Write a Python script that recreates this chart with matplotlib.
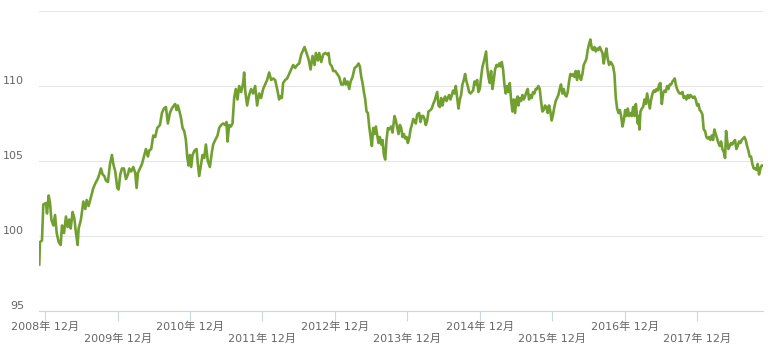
import matplotlib
matplotlib.use('Agg')
import matplotlib.pyplot as plt
from matplotlib.transforms import ScaledTranslation
import pandas as pd

# time as decimal year
when = [
    2008.834, 2008.843, 2008.871, 2008.889, 2008.926, 2008.940, 2008.963, 2008.982,
    2009.000, 2009.028, 2009.051, 2009.074, 2009.101, 2009.129, 2009.147, 2009.175,
    2009.202, 2009.225, 2009.248, 2009.267, 2009.294, 2009.317, 2009.340, 2009.363,
    2009.377, 2009.409, 2009.442, 2009.469, 2009.488, 2009.515, 2009.547, 2009.580,
    2009.607, 2009.640, 2009.662, 2009.685, 2009.709, 2009.732, 2009.754, 2009.782,
    2009.810, 2009.837, 2009.856, 2009.883, 2009.911, 2009.929, 2009.952, 2009.975,
    2010.003, 2010.031, 2010.058, 2010.077, 2010.104, 2010.132, 2010.159, 2010.178,
    2010.196, 2010.224, 2010.252, 2010.279, 2010.307, 2010.334, 2010.353, 2010.380,
    2010.408, 2010.435, 2010.463, 2010.500, 2010.528, 2010.555, 2010.583, 2010.610,
    2010.638, 2010.665, 2010.693, 2010.711, 2010.730, 2010.748, 2010.776, 2010.794,
    2010.813, 2010.836, 2010.859, 2010.877, 2010.896, 2010.914, 2010.932, 2010.951,
    2010.978, 2011.006, 2011.024, 2011.043, 2011.066, 2011.089, 2011.112, 2011.135,
    2011.162, 2011.190, 2011.218, 2011.236, 2011.264, 2011.296, 2011.319, 2011.346,
    2011.374, 2011.402, 2011.420, 2011.434, 2011.457, 2011.480, 2011.503, 2011.526,
    2011.549, 2011.572, 2011.595, 2011.622, 2011.650, 2011.664, 2011.678, 2011.705,
    2011.733, 2011.760, 2011.788, 2011.816, 2011.843, 2011.871, 2011.898, 2011.926,
    2011.954, 2011.981, 2012.009, 2012.037, 2012.064, 2012.092, 2012.124, 2012.147,
    2012.165, 2012.184, 2012.202, 2012.230, 2012.257, 2012.285, 2012.313, 2012.340,
    2012.368, 2012.395, 2012.423, 2012.451, 2012.478, 2012.497, 2012.524, 2012.552,
    2012.580, 2012.607, 2012.635, 2012.653, 2012.681, 2012.699, 2012.727, 2012.754,
    2012.782, 2012.810, 2012.828, 2012.846, 2012.874, 2012.892, 2012.920, 2012.948,
    2012.975, 2013.003, 2013.030, 2013.049, 2013.067, 2013.090, 2013.113, 2013.132,
    2013.159, 2013.187, 2013.214, 2013.242, 2013.260, 2013.279, 2013.297, 2013.316,
    2013.334, 2013.352, 2013.371, 2013.389, 2013.408, 2013.426, 2013.444, 2013.463,
    2013.481, 2013.500, 2013.518, 2013.536, 2013.555, 2013.573, 2013.592, 2013.610,
    2013.628, 2013.647, 2013.665, 2013.693, 2013.711, 2013.739, 2013.757, 2013.794,
    2013.813, 2013.831, 2013.849, 2013.868, 2013.886, 2013.905, 2013.923, 2013.941,
    2013.960, 2013.978, 2013.997, 2014.015, 2014.033, 2014.052, 2014.079, 2014.098,
    2014.116, 2014.135, 2014.153, 2014.171, 2014.190, 2014.208, 2014.236, 2014.254,
    2014.273, 2014.291, 2014.309, 2014.328, 2014.346, 2014.365, 2014.383, 2014.401,
    2014.420, 2014.438, 2014.457, 2014.475, 2014.493, 2014.512, 2014.530, 2014.549,
    2014.567, 2014.585, 2014.604, 2014.622, 2014.641, 2014.659, 2014.677, 2014.696,
    2014.714, 2014.733, 2014.751, 2014.769, 2014.788, 2014.806, 2014.825, 2014.843,
    2014.862, 2014.880, 2014.898, 2014.917, 2014.935, 2014.954, 2014.972, 2014.990,
    2015.004, 2015.018, 2015.036, 2015.055, 2015.073, 2015.092, 2015.110, 2015.128,
    2015.147, 2015.165, 2015.184, 2015.202, 2015.220, 2015.239, 2015.257, 2015.276,
    2015.294, 2015.312, 2015.331, 2015.349, 2015.368, 2015.386, 2015.404, 2015.423,
    2015.441, 2015.450, 2015.469, 2015.487, 2015.506, 2015.524, 2015.542, 2015.561,
    2015.579, 2015.598, 2015.616, 2015.634, 2015.653, 2015.671, 2015.690, 2015.708,
    2015.726, 2015.745, 2015.763, 2015.782, 2015.800, 2015.818, 2015.837, 2015.855,
    2015.874, 2015.892, 2015.910, 2015.929, 2015.947, 2015.966, 2015.984, 2016.003,
    2016.021, 2016.039, 2016.058, 2016.076, 2016.095, 2016.113, 2016.131, 2016.150,
    2016.168, 2016.187, 2016.205, 2016.223, 2016.242, 2016.260, 2016.279, 2016.297,
    2016.315, 2016.334, 2016.352, 2016.371, 2016.389, 2016.407, 2016.426, 2016.444,
    2016.463, 2016.481, 2016.499, 2016.518, 2016.536, 2016.555, 2016.573, 2016.591,
    2016.610, 2016.628, 2016.647, 2016.665, 2016.683, 2016.702, 2016.720, 2016.739,
    2016.757, 2016.775, 2016.794, 2016.812, 2016.831, 2016.849, 2016.867, 2016.886,
    2016.904, 2016.923, 2016.941, 2016.959, 2016.978, 2016.996, 2017.015, 2017.033,
    2017.052, 2017.070, 2017.098, 2017.107, 2017.120, 2017.134, 2017.153, 2017.171,
    2017.190, 2017.208, 2017.226, 2017.245, 2017.263, 2017.282, 2017.300, 2017.318,
    2017.337, 2017.355, 2017.374, 2017.392, 2017.410, 2017.429, 2017.447, 2017.466,
    2017.484, 2017.502, 2017.521, 2017.539, 2017.558, 2017.576, 2017.594, 2017.608,
    2017.622, 2017.640, 2017.659, 2017.677, 2017.696, 2017.714, 2017.732, 2017.751,
    2017.769, 2017.788, 2017.806, 2017.824, 2017.843, 2017.861, 2017.880, 2017.898,
    2017.916, 2017.935, 2017.953, 2017.972, 2017.990, 2018.008, 2018.027, 2018.045,
    2018.064, 2018.082, 2018.100, 2018.119, 2018.137, 2018.156, 2018.174, 2018.193,
    2018.211, 2018.229, 2018.248, 2018.266, 2018.285, 2018.303, 2018.317, 2018.331,
    2018.349, 2018.367, 2018.386, 2018.404, 2018.423, 2018.441, 2018.459, 2018.478,
    2018.496, 2018.515, 2018.533, 2018.551, 2018.570, 2018.588, 2018.607, 2018.625,
    2018.643, 2018.662, 2018.680, 2018.699, 2018.717, 2018.735, 2018.754, 2018.772,
    2018.791, 2018.809, 2018.823,
]

level = [
    98.1, 99.6, 99.7, 102.1, 102.2, 101.5, 102.7, 102.2,
    101.1, 100.7, 101.4, 100.2, 99.6, 99.4, 100.7, 100.2,
    101.3, 100.6, 101.1, 100.5, 101.6, 101.2, 100.2, 99.4,
    100.5, 101.1, 102.3, 101.8, 102.4, 102.0, 102.6, 103.2,
    103.5, 103.8, 104.1, 104.5, 104.1, 104.0, 103.7, 103.6,
    104.8, 105.4, 104.8, 104.3, 103.2, 103.1, 104.1, 104.5,
    104.5, 103.8, 104.1, 104.5, 104.3, 104.6, 104.2, 103.2,
    104.2, 104.5, 104.8, 105.3, 105.8, 105.3, 105.7, 105.8,
    106.7, 106.6, 107.2, 107.4, 108.2, 108.5, 108.6, 107.5,
    108.2, 108.5, 108.7, 108.8, 108.4, 108.7, 108.2, 107.8,
    107.2, 107.0, 106.4, 105.3, 104.7, 105.4, 104.6, 105.4,
    105.7, 105.8, 104.8, 104.0, 104.7, 105.4, 105.2, 106.1,
    105.0, 104.6, 105.6, 106.1, 106.4, 106.7, 107.2, 107.4,
    107.5, 107.4, 107.6, 106.3, 107.4, 107.3, 107.5, 109.2,
    109.8, 109.1, 110.0, 109.6, 110.2, 110.9, 109.7, 108.7,
    109.4, 109.8, 109.5, 110.0, 108.7, 109.5, 109.2, 109.8,
    110.1, 110.4, 110.9, 110.4, 110.5, 110.4, 109.7, 109.1,
    109.3, 109.2, 110.2, 110.4, 110.5, 110.8, 111.1, 111.4,
    111.2, 111.4, 111.5, 112.1, 112.4, 112.6, 112.2, 111.8,
    111.1, 112.0, 111.4, 112.2, 111.7, 112.2, 111.6, 112.1,
    112.2, 112.1, 112.2, 111.5, 111.3, 111.0, 111.0, 110.8,
    110.6, 110.1, 110.1, 110.5, 110.1, 110.3, 109.8, 110.3,
    110.6, 111.2, 111.3, 111.5, 111.3, 110.6, 110.2, 109.6,
    109.1, 108.3, 108.2, 107.3, 106.6, 106.0, 107.2, 106.8,
    107.3, 106.7, 106.2, 106.6, 106.1, 106.4, 105.4, 105.1,
    106.4, 107.2, 107.1, 107.3, 106.9, 108.0, 107.7, 106.8,
    107.4, 107.2, 106.6, 106.8, 106.5, 106.6, 106.2, 106.5,
    107.1, 107.4, 107.8, 107.7, 107.5, 108.1, 108.2, 107.6,
    108.0, 108.0, 107.8, 107.4, 107.7, 108.3, 108.4, 108.5,
    108.8, 109.0, 109.3, 109.6, 108.7, 108.6, 109.2, 108.7,
    109.1, 109.3, 109.0, 109.2, 109.4, 109.1, 109.4, 109.7,
    109.5, 110.0, 109.2, 108.5, 109.1, 109.4, 110.1, 110.4,
    110.8, 110.3, 110.0, 109.6, 109.5, 109.6, 109.7, 110.3,
    110.1, 110.4, 109.6, 109.8, 110.6, 111.3, 111.6, 112.0,
    112.3, 111.3, 110.6, 110.2, 111.0, 109.8, 110.4, 111.1,
    111.4, 111.3, 111.5, 111.3, 111.6, 111.1, 110.1, 109.5,
    110.0, 109.6, 110.2, 109.1, 108.3, 109.1, 108.2, 109.1,
    109.3, 108.7, 109.2, 109.0, 109.4, 109.1, 109.3, 109.6,
    109.8, 109.1, 109.4, 109.2, 109.6, 109.5, 109.8, 109.8,
    110.0, 109.8, 109.0, 108.3, 108.4, 108.7, 108.6, 108.2,
    108.7, 108.3, 107.7, 108.1, 108.6, 109.0, 109.2, 109.4,
    109.8, 110.1, 109.5, 109.8, 109.4, 109.3, 109.6, 110.3,
    110.8, 110.7, 110.8, 110.6, 111.0, 110.4, 111.0, 110.6,
    110.4, 110.8, 111.4, 111.6, 111.8, 112.4, 112.8, 113.1,
    112.5, 112.4, 112.6, 112.3, 112.5, 112.4, 112.6, 112.4,
    112.2, 111.5, 112.1, 112.5, 111.8, 111.4, 111.6, 111.5,
    111.3, 110.8, 109.2, 108.5, 108.2, 108.4, 108.0, 107.3,
    107.7, 108.4, 108.0, 108.5, 108.0, 108.2, 108.0, 108.6,
    108.0, 108.8, 107.5, 108.0, 107.1, 108.3, 108.5, 108.6,
    109.1, 108.8, 109.5, 109.0, 108.5, 109.1, 109.5, 109.7,
    109.6, 109.8, 109.7, 110.1, 110.2, 108.8, 109.5, 109.7,
    109.6, 110.0, 109.8, 110.1, 110.1, 110.3, 110.4, 110.5,
    110.1, 109.8, 109.6, 109.5, 109.5, 109.6, 109.2, 109.3,
    109.1, 109.4, 109.2, 109.4, 109.3, 109.2, 109.3, 109.1,
    108.7, 108.8, 108.4, 108.3, 108.1, 107.1, 107.0, 106.6,
    106.5, 106.6, 106.4, 106.7, 106.4, 107.1, 106.8, 106.5,
    106.2, 106.0, 106.3, 105.8, 105.6, 105.2, 107.0, 106.4,
    105.8, 106.0, 106.2, 106.1, 106.3, 106.4, 105.8, 106.0,
    106.3, 106.2, 106.4, 106.5, 106.6, 106.4, 106.0, 105.7,
    105.3, 105.3, 104.8, 104.5, 104.5, 104.4, 104.8, 104.1,
    104.5, 104.7, 104.7,
]

tick_years = list(range(2008, 2018))
y_ticks = [95, 100, 105, 110, 115]


def to_datetime(t):
    year = int(t)
    start = pd.Timestamp(year=year, month=1, day=1)
    end = pd.Timestamp(year=year + 1, month=1, day=1)
    return (start + (end - start) * (t - year)).to_pydatetime()


if __name__ == '__main__':
    plt.rcParams['font.family'] = ['DejaVu Sans', 'Noto Sans CJK JP']

    dates = [to_datetime(t) for t in when]

    fig = plt.figure(figsize=(7.77, 3.53), dpi=100)
    ax = fig.add_axes([39.3 / 777, 1 - 311 / 353, (762.7 - 39.3) / 777, 300 / 353])

    ax.plot(dates, level, color='#72a030', linewidth=1.9, solid_joinstyle='round')

    ax.set_ylim(95, 115)
    ax.set_yticks(y_ticks)
    ax.set_yticklabels([str(v) if v < 115 else '' for v in y_ticks])
    ax.set_xlim(dates[0], dates[-1])

    ticks = [pd.Timestamp(year=y, month=12, day=1).to_pydatetime() for y in tick_years]
    labels = [f'{y}年 12月' if i % 2 == 0 else f'\n{y}年 12月'
              for i, y in enumerate(tick_years)]
    ax.set_xticks(ticks)
    ax.set_xticklabels(labels)

    ax.grid(axis='y', color='#e6e6e6', linewidth=0.8)
    ax.set_axisbelow(True)
    for side in ['top', 'right', 'left']:
        ax.spines[side].set_visible(False)
    ax.spines['bottom'].set_color('#ccd6eb')
    ax.spines['bottom'].set_linewidth(0.8)

    ax.tick_params(axis='x', length=7.2, width=0.8, color='#ccd6eb',
                   labelcolor='#666666', labelsize=8, pad=0.5)
    ax.tick_params(axis='y', length=0, pad=10.8, labelcolor='#666666', labelsize=8)

    shift = ScaledTranslation(0, 0.06, fig.dpi_scale_trans)
    for lab in ax.get_yticklabels():
        lab.set_transform(lab.get_transform() + shift)

    fig.savefig('out.png', dpi=100)
